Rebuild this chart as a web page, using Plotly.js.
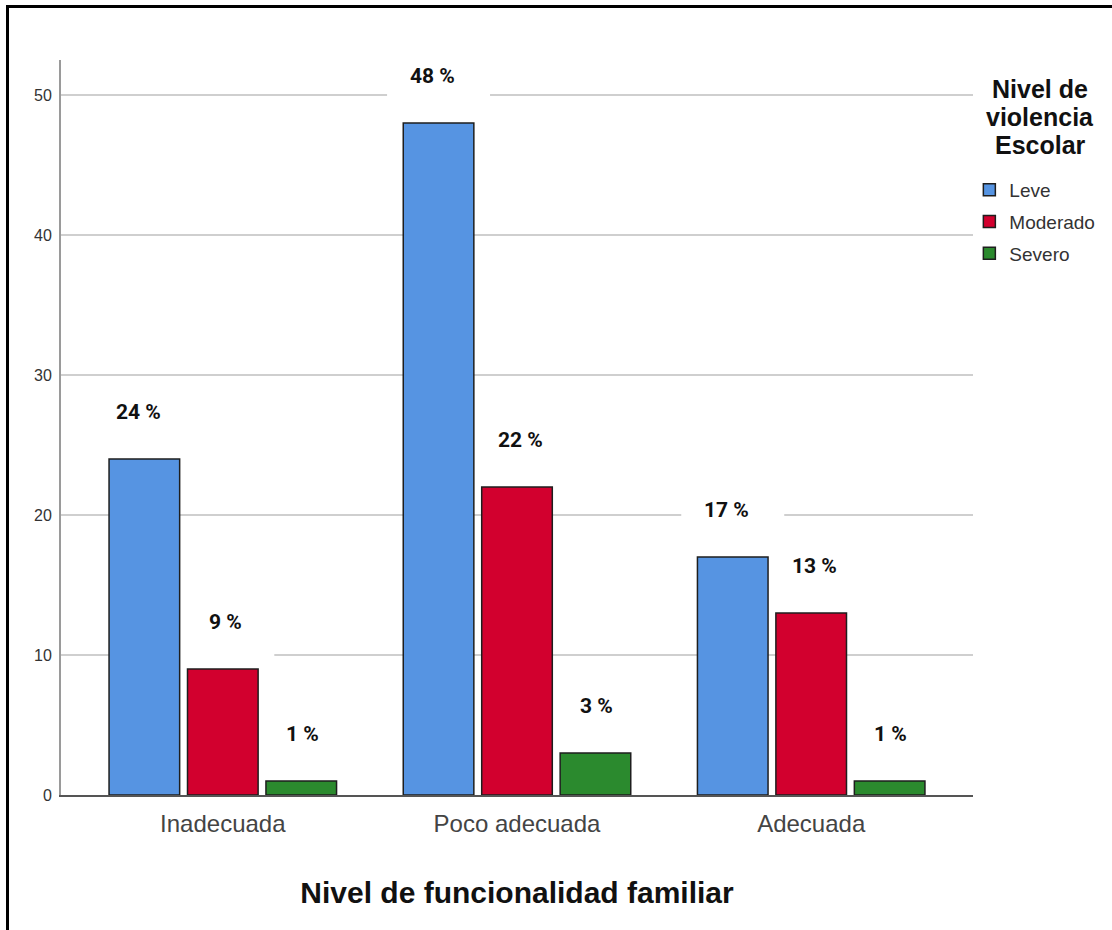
<!DOCTYPE html>
<html><head><meta charset="utf-8">
<script src="https://cdn.plot.ly/plotly-3.0.1.min.js"></script>
<style>
html,body{margin:0;padding:0;background:#fff;overflow:hidden;}
#wrap{position:relative;width:1112px;height:930px;}
#chart{width:1112px;height:930px;}
.fl{position:absolute;background:#000;pointer-events:none;}
</style></head><body>
<div id="wrap"><div id="chart"></div>
<div class="fl" style="left:6px;top:5px;width:1106px;height:3px"></div>
<div class="fl" style="left:6px;top:5px;width:3px;height:925px"></div>
</div>
<script>
// ---- data ----
const categories = ['Inadecuada', 'Poco adecuada', 'Adecuada'];
const seriesNames = ['Leve', 'Moderado', 'Severo'];
const leve = [24, 48, 17];
const moderado = [9, 22, 13];
const severo = [1, 3, 1];
const yTickVals = [0, 10, 20, 30, 40, 50];
const xTitle = 'Nivel de funcionalidad familiar';
const legendTitleLines = ['Nivel de', 'violencia', 'Escolar'];

// ---- style ----
const colors = ['#5694e2', '#d2002e', '#2b8a2e'];
const seriesValues = [leve, moderado, severo];
const bargap = 0.2, bargroupgap = 0.1;
const nSeries = seriesValues.length;
const slot = (1 - bargap) / nSeries;
const offsets = seriesValues.map((_, j) => -(1 - bargap) / 2 + slot * (j + 0.5));
const labelNudge = [-6, 3, 1];
const arial = '"Liberation Sans", Arial, sans-serif';
const labelFont = 'Roboto, "Liberation Sans", Arial, sans-serif';

const traces = seriesValues.map((vals, j) => ({
  type: 'bar',
  name: seriesNames[j],
  x: categories,
  y: vals,
  legendgroup: 'g' + j,
  marker: { color: colors[j], line: { color: '#1e1e1e', width: 1.5 } },
  hoverinfo: 'x+y+name'
}));

const annotations = [];
const shapes = [];
seriesValues.forEach((vals, j) => {
  vals.forEach((v, i) => {
    annotations.push({
      x: i + offsets[j], xref: 'x', y: v, yref: 'y',
      xshift: labelNudge[j], yshift: 47, yanchor: 'middle',
      text: v + ' %', showarrow: false,
      font: { family: labelFont, size: 21, color: '#111', weight: 'bold' }
    });
    shapes.push({
      type: 'rect', layer: 'between',
      xref: 'x', x0: i + offsets[j] - 0.175, x1: i + offsets[j] + 0.175,
      yref: 'y', ysizemode: 'pixel', yanchor: v, y0: 4, y1: 67,
      fillcolor: '#ffffff', line: { width: 0 }
    });
  });
});

// legend title drawn as three lines (tight SPSS line spacing)
const plotTop = 60, plotBottom = 795, plotH = plotBottom - plotTop;
const titleCentersPx = [89, 117, 145];
legendTitleLines.forEach((t, k) => {
  annotations.push({
    xref: 'paper', yref: 'paper', x: 1.0735, xanchor: 'center',
    y: (plotBottom - titleCentersPx[k]) / plotH, yanchor: 'middle',
    text: t, showarrow: false,
    font: { family: arial, size: 25, color: '#111', weight: 'bold' }
  });
});

const layout = {
  width: 1112, height: 930,
  margin: { l: 61, r: 139, t: plotTop, b: 930 - plotBottom },
  paper_bgcolor: '#ffffff', plot_bgcolor: '#ffffff',
  barmode: 'group', bargap: bargap, bargroupgap: bargroupgap,
  showlegend: true,
  legend: {
    x: 0.996, xanchor: 'left', y: 0.849, yanchor: 'top',
    traceorder: 'grouped', tracegroupgap: 4,
    font: { family: arial, size: 19, color: '#333' },
    bgcolor: 'rgba(0,0,0,0)'
  },
  xaxis: {
    type: 'category', range: [-0.55, 2.55],
    showline: true, linecolor: '#555', linewidth: 2,
    showgrid: false, zeroline: false, ticks: '',
    ticklabelstandoff: 6,
    tickfont: { family: arial, size: 24, color: '#444' },
    title: { text: xTitle, standoff: 46,
      font: { family: arial, size: 30, color: '#111', weight: 'bold' } },
    automargin: false
  },
  yaxis: {
    range: [0, 52.5], tickvals: yTickVals, ticktext: yTickVals.map(String),
    showline: true, linecolor: '#9a9a9a', linewidth: 2,
    showgrid: true, gridcolor: '#cfcfcf', gridwidth: 2,
    zeroline: false, ticks: '', ticklabelstandoff: 4,
    tickfont: { family: arial, size: 16, color: '#333' },
    automargin: false
  },
  annotations: annotations,
  shapes: shapes
};

Plotly.newPlot('chart', traces, layout, { displayModeBar: false });
</script>
</body></html>
